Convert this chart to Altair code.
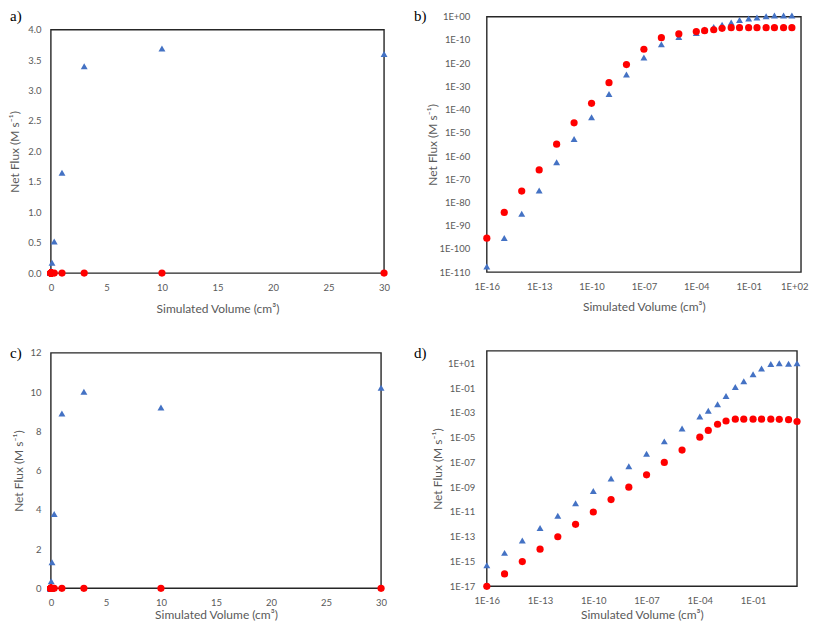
import altair as alt
import pandas as pd

# ---------------- data ----------------
volume_cm3 = [1e-16, 1e-15, 1e-14, 1e-13, 1e-12, 1e-11, 1e-10, 1e-9, 1e-8, 1e-7,
              1e-6, 1e-5, 1e-4, 3e-4, 1e-3, 3e-3, 1e-2, 3e-2, 0.1, 0.3, 1, 3, 10, 30]

# panels a/b (same data, linear vs log)
flux_ab_triangle = [2.5e-108, 5e-96, 1.3e-85, 1.3e-75, 2e-63, 2e-53, 5e-44, 5e-34, 1.3e-25,
                    2.5e-18, 1.3e-12, 2e-9, 1e-7, 3e-6, 4e-5, 4e-4, 3e-3, 0.04, 0.17, 0.52,
                    1.65, 3.4, 3.69, 3.6]
flux_ab_circle = [4e-96, 5e-85, 8e-76, 1e-66, 1.3e-55, 2e-46, 5e-38, 4e-29, 2.5e-21,
                  1e-14, 1e-9, 4e-8, 4e-7, 1e-6, 2.5e-6, 1e-5, 2e-5, 2e-5, 2e-5, 2e-5,
                  2e-5, 2e-5, 2e-5, 2e-5]

# panels c/d (same data, linear vs log)
flux_cd_triangle = [5e-16, 5e-15, 5e-14, 5e-13, 5e-12, 5e-11, 5e-10, 5e-9, 5e-8, 5e-7,
                    5e-6, 5.5e-5, 5e-4, 1.5e-3, 5e-3, 2.3e-2, 0.12, 0.36, 1.33, 3.79,
                    8.91, 10.02, 9.22, 10.22]
flux_cd_circle = [1e-17, 1e-16, 1e-15, 1e-14, 1e-13, 1e-12, 1e-11, 1e-10, 1e-9, 1e-8,
                  1e-7, 1e-6, 1.1e-5, 3.8e-5, 1.2e-4, 2.2e-4, 3.1e-4, 3.1e-4, 3.1e-4,
                  3.1e-4, 3.1e-4, 3e-4, 2.8e-4, 2e-4]

panel_labels = ["a)", "b)", "c)", "d)"]
x_title = "Simulated Volume (cm³)"
y_title = "Net Flux (M s⁻¹)"

lin_x_ticks = [0, 5, 10, 15, 20, 25, 30]
a_y_ticks = [0, 0.5, 1.0, 1.5, 2.0, 2.5, 3.0, 3.5, 4.0]
c_y_ticks = [0, 2, 4, 6, 8, 10, 12]
b_x_ticks = [1e-16, 1e-13, 1e-10, 1e-7, 1e-4, 1e-1, 1e2]
b_y_ticks = [1e-110, 1e-100, 1e-90, 1e-80, 1e-70, 1e-60, 1e-50, 1e-40, 1e-30, 1e-20, 1e-10, 1e0]
d_x_ticks = [1e-16, 1e-13, 1e-10, 1e-7, 1e-4, 1e-1]
d_y_ticks = [1e-17, 1e-15, 1e-13, 1e-11, 1e-9, 1e-7, 1e-5, 1e-3, 1e-1, 1e1]

# ---------------- style ----------------
BLUE = "#4472C4"
RED = "#FF0000"
FRAME = "#262626"
TXT = "#595959"
FONT = "Lato"

EXPR = ("'1E' + (datum.value < 1 ? '-' : '+') + "
        "(abs(round(log(datum.value)/LN10)) < 10 ? '0' : '') + "
        "abs(round(log(datum.value)/LN10))")


def make_axis(vals, fmt, log, pad, tx, ty, title, **extra):
    kw = dict(values=vals, grid=False, ticks=False, tickSize=0, domain=False,
              labelPadding=pad, labelFlush=False, labelOverlap=False,
              title=title, titleX=tx, titleY=ty,
              titleBaseline="middle", titleAlign="center")
    if log:
        kw["labelExpr"] = EXPR
    else:
        kw["format"] = fmt
    kw.update(extra)
    return alt.Axis(**kw)


def panel(tri, circ, xscale, yscale, xvals, yvals, xfmt, yfmt, log,
          w, H, top, ph, ypad, ytx, yty, xty, label, ldx, ldy, xextra=None):
    df_t = pd.DataFrame({"vol": volume_cm3, "flux": tri})
    df_c = pd.DataFrame({"vol": volume_cm3, "flux": circ})
    xaxis = make_axis(xvals, xfmt, log, 9, w / 2, xty, x_title, **(xextra or {}))
    yaxis = make_axis(yvals, yfmt, log, ypad, ytx, yty, y_title)

    frame = alt.Chart(pd.DataFrame({"k": [0]})).mark_rect(
        filled=False, stroke=FRAME, strokeWidth=1.4
    ).encode(x=alt.value(0), x2=alt.value(w), y=alt.value(top), y2=alt.value(top + ph))

    tri_layer = alt.Chart(df_t).mark_point(
        shape="triangle-up", filled=True, color=BLUE, size=48, opacity=1, strokeWidth=0
    ).encode(
        x=alt.X("vol:Q", scale=xscale, axis=xaxis),
        y=alt.Y("flux:Q", scale=yscale, axis=yaxis),
    )
    circ_layer = alt.Chart(df_c).mark_point(
        shape="circle", filled=True, color=RED, size=52, opacity=1, strokeWidth=0
    ).encode(
        x=alt.X("vol:Q", scale=xscale, axis=xaxis),
        y=alt.Y("flux:Q", scale=yscale, axis=yaxis),
    )
    lab = alt.Chart(pd.DataFrame({"t": [label]})).mark_text(
        font="Liberation Serif", fontSize=15, align="left", baseline="middle", color="black"
    ).encode(x=alt.value(ldx), y=alt.value(ldy), text="t:N")

    return alt.layer(frame, tri_layer, circ_layer, lab).properties(width=w, height=H)


# panel a: linear, plot area 334x244, offset 13 px down inside a 257 tall cell
pa = panel(flux_ab_triangle, flux_ab_circle,
           alt.Scale(domain=[0, 30], nice=False, zero=False),
           alt.Scale(domain=[0, 4], nice=False, range=[257, 13]),
           lin_x_ticks, a_y_ticks, "d", ".1f", False,
           334, 257, 13, 244, 10, -36.5, 135, 35, panel_labels[0], -41, -0.5)

# panel b: log-log, 315x256 (last x label kept inside the page)
pb = panel(flux_ab_triangle, flux_ab_circle,
           alt.Scale(type="log", domain=[1e-16, 1e2], nice=False),
           alt.Scale(type="log", domain=[1e-110, 1e0], nice=False),
           b_x_ticks, b_y_ticks, "", "", True,
           315, 256, 0, 256, 17, -54, 128, 34, panel_labels[1], -73, -0.5,
           xextra=dict(
               labelAlign={"condition": {"test": "datum.value >= 10", "value": "right"},
                           "value": "center"},
               labelOffset={"condition": {"test": "datum.value >= 10", "value": 7},
                            "value": 0},
           ))

# panel c: linear, 331x236 placed 2 px down in a 238 tall cell
pc = panel(flux_cd_triangle, flux_cd_circle,
           alt.Scale(domain=[0, 30], nice=False, zero=False),
           alt.Scale(domain=[0, 12], nice=False, range=[238, 2]),
           lin_x_ticks, c_y_ticks, "d", "d", False,
           331, 238, 2, 236, 10, -32.3, 120, 26, panel_labels[2], -41, 2)

# panel d: log-log, 311x236
pd_ = panel(flux_cd_triangle, flux_cd_circle,
            alt.Scale(type="log", domain=[1e-16, 30], nice=False),
            alt.Scale(type="log", domain=[1e-17, 1e2], nice=False),
            d_x_ticks, d_y_ticks, "", "", True,
            311, 236, 0, 236, 12, -49, 118, 28, panel_labels[3], -73, 2.5)

chart = alt.concat(
    pa, pb, pc, pd_, columns=2, spacing={"row": 78, "column": 103}, bounds="flush"
).properties(padding=0).configure_view(
    stroke="transparent"
).configure_axis(
    labelFont=FONT, labelFontSize=9.5, labelColor=TXT,
    titleFont=FONT, titleFontSize=12, titleFontWeight="normal", titleColor=TXT,
)

chart.save("out.html", embed_options={"renderer": "svg", "actions": False})
